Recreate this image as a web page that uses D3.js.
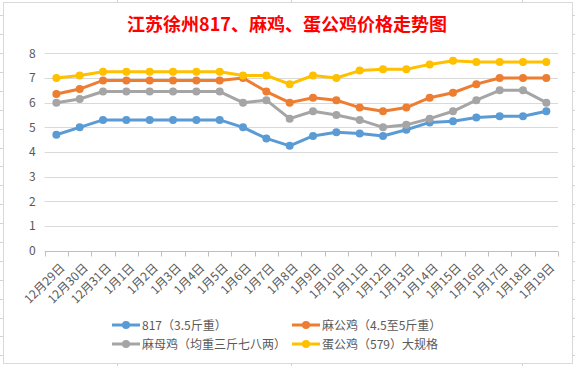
<!DOCTYPE html>
<html><head><meta charset="utf-8">
<script src="https://cdn.jsdelivr.net/npm/d3@7/dist/d3.min.js"></script>
<style>body{margin:0;background:#fff}svg{display:block}</style>
</head><body>
<script>
const categories = ["12月29日","12月30日","12月31日","1月1日","1月2日","1月3日","1月4日","1月5日","1月6日","1月7日","1月8日","1月9日","1月10日","1月11日","1月12日","1月13日","1月14日","1月15日","1月16日","1月17日","1月18日","1月19日"];
const s817 = [4.7,5.0,5.3,5.3,5.3,5.3,5.3,5.3,5.0,4.55,4.25,4.65,4.8,4.75,4.65,4.9,5.2,5.25,5.4,5.45,5.45,5.65];
const maGong = [6.35,6.55,6.9,6.9,6.9,6.9,6.9,6.9,7.0,6.45,6.0,6.2,6.1,5.8,5.65,5.8,6.2,6.4,6.75,7.0,7.0,7.0];
const maMu = [6.0,6.15,6.45,6.45,6.45,6.45,6.45,6.45,6.0,6.1,5.35,5.65,5.5,5.3,5.0,5.1,5.35,5.65,6.1,6.5,6.5,6.0];
const danGong = [7.0,7.1,7.25,7.25,7.25,7.25,7.25,7.25,7.1,7.1,6.75,7.1,7.0,7.3,7.35,7.35,7.55,7.7,7.65,7.65,7.65,7.65];
const yTicks = [0,1,2,3,4,5,6,7,8];
const seriesNames = ["817（3.5斤重）","麻公鸡（4.5至5斤重）","麻母鸡（均重三斤七八两）","蛋公鸡（579）大规格"];
const title = "江苏徐州817、麻鸡、蛋公鸡价格走势图";

const series = [
  {name: seriesNames[0], values: s817, color: "#5B9BD5"},
  {name: seriesNames[1], values: maGong, color: "#ED7D31"},
  {name: seriesNames[2], values: maMu, color: "#A5A5A5"},
  {name: seriesNames[3], values: danGong, color: "#FFC000"}
];

const W = 575, H = 366;
const svg = d3.select("body").append("svg").attr("width", W).attr("height", H);
const font = "'Noto Sans CJK SC','Noto Sans',sans-serif";

// spreadsheet background grid
const bg = svg.append("g");
for (let y = 15.2; y < H; y += 18.9) {
  bg.append("line").attr("x1",0).attr("x2",W).attr("y1",Math.round(y)+0.5).attr("y2",Math.round(y)+0.5).attr("stroke","#d4d4d4");
}
[117.5, 291.5, 522.5].forEach(x => bg.append("line").attr("x1",x).attr("x2",x).attr("y1",0).attr("y2",H).attr("stroke","#d4d4d4"));

// chart box
svg.append("rect").attr("x",3.5).attr("y",2.5).attr("width",569).attr("height",361)
  .attr("fill","#fff").attr("stroke","#d9d9d9");

svg.append("text").attr("x",287).attr("y",31).attr("text-anchor","middle")
  .attr("font-family",font).attr("font-weight","bold").attr("font-size",18)
  .attr("fill","#FF0000").text(title);

const x = d3.scaleBand().domain(categories).range([44.7, 558]);
const y = d3.scaleLinear().domain([0, 8]).range([250.7, 53.3]);

// gridlines
svg.append("g").selectAll("line").data(yTicks.filter(d=>d>0)).join("line")
  .attr("x1",44.7).attr("x2",558)
  .attr("y1",d=>Math.round(y(d))+0.5).attr("y2",d=>Math.round(y(d))+0.5)
  .attr("stroke","#d9d9d9");

// y axis labels
const ya = svg.append("g").attr("transform","translate(44.7,0)")
  .call(d3.axisLeft(y).tickValues(yTicks).tickSize(0).tickPadding(9));
ya.select(".domain").remove();
ya.selectAll("text").attr("font-family",font).attr("font-size",12).attr("fill","#595959");

// x axis
const xa = svg.append("g").attr("transform",`translate(0,${Math.round(y(0))+0.5})`)
  .call(d3.axisBottom(x).tickSize(0));
xa.select(".domain").attr("stroke","#bfbfbf").attr("d","M44.7,0H558");
xa.selectAll(".tick line").remove();
const bounds = categories.map(c => x(c)).concat([x(categories[categories.length-1]) + x.bandwidth()]);
xa.append("g").selectAll("line").data(bounds).join("line")
  .attr("x1",d=>Math.round(d)+0.5).attr("x2",d=>Math.round(d)+0.5).attr("y1",0).attr("y2",5)
  .attr("stroke","#bfbfbf");
xa.selectAll(".tick text")
  .attr("font-family",font).attr("font-size",12).attr("fill","#595959")
  .attr("text-anchor","end").attr("dy",0).attr("y",0)
  .attr("transform","translate(9,17) rotate(-45)");

// lines
const line = d3.line().x((d,i)=>x(categories[i]) + x.bandwidth()/2).y(d=>y(d));
series.forEach(s => {
  const g = svg.append("g");
  g.append("path").attr("d", line(s.values)).attr("fill","none")
    .attr("stroke", s.color).attr("stroke-width",3).attr("stroke-linejoin","round").attr("stroke-linecap","round");
  g.selectAll("circle").data(s.values).join("circle")
    .attr("cx",(d,i)=>x(categories[i]) + x.bandwidth()/2).attr("cy",d=>y(d))
    .attr("r",4).attr("fill",s.color);
});

// legend
const legPos = [[112,325],[292,325],[112,344],[292,344]];
series.forEach((s,i) => {
  const [lx, ly] = legPos[i];
  const g = svg.append("g").attr("transform",`translate(${lx},${ly})`);
  g.append("line").attr("x1",0).attr("x2",28).attr("y1",0).attr("y2",0).attr("stroke",s.color).attr("stroke-width",3);
  g.append("circle").attr("cx",14).attr("cy",0).attr("r",4).attr("fill",s.color);
  g.append("text").attr("x",30).attr("y",4.5).attr("font-family",font).attr("font-size",12)
    .attr("fill","#595959").text(s.name);
});
</script>
</body></html>
